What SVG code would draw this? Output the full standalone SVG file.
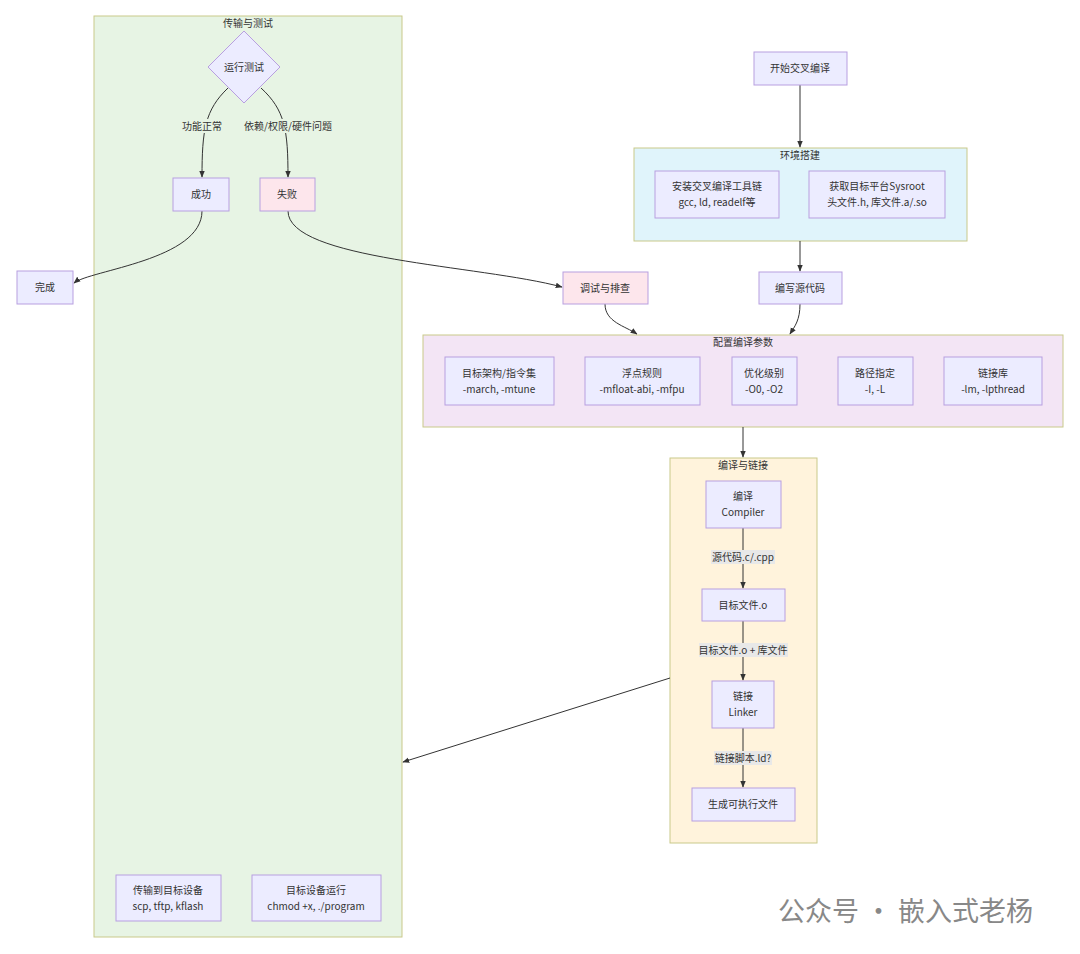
<svg xmlns="http://www.w3.org/2000/svg" width="1080" height="954" viewBox="0 0 1080 954">
<style>
text{font-family:"Noto Sans CJK SC","Noto Sans",sans-serif;font-size:10px;fill:#333;text-anchor:middle}
.n{fill:#ececff;stroke:#b89fe0;stroke-width:1}
.p{fill:#fde6ec;stroke:#b89fe0;stroke-width:1}
.c{stroke:#c9c98a;stroke-width:1}
.e{fill:none;stroke:#333;stroke-width:1}
.lb{fill:#e8e8e8}
.wm{font-size:27px;fill:#888;text-anchor:start}
</style>
<defs><marker id="a" viewBox="0 0 10 10" refX="9" refY="5" markerWidth="7" markerHeight="7" orient="auto"><path d="M0,1L10,5L0,9z" fill="#333"/></marker></defs>
<rect width="1080" height="954" fill="#fff"/>
<g id="c1"><rect class="c" x="94" y="16" width="308" height="921" fill="#e7f4e4"/><text x="248" y="27">传输与测试</text></g>
<g id="c2"><rect class="c" x="634" y="148" width="333" height="93" fill="#e0f4fb"/><text x="800" y="159">环境搭建</text></g>
<g id="c3"><rect class="c" x="423" y="335" width="640" height="92" fill="#f3e5f5"/><text x="743" y="346">配置编译参数</text></g>
<g id="c4"><rect class="c" x="670" y="458" width="147" height="385" fill="#fff3dc"/><text x="743" y="469">编译与链接</text></g>
<g id="edges">
<path class="e" d="M800,85V147" marker-end="url(#a)"/>
<path class="e" d="M800,241V271" marker-end="url(#a)"/>
<path class="e" d="M800,304C800,320 795,326 790,334" marker-end="url(#a)"/>
<path class="e" d="M605,304C605,322 625,326 637,334" marker-end="url(#a)"/>
<path class="e" d="M743,427V457" marker-end="url(#a)"/>
<path class="e" d="M743,528V588" marker-end="url(#a)"/>
<path class="e" d="M743,621V680" marker-end="url(#a)"/>
<path class="e" d="M743,728V787" marker-end="url(#a)"/>
<path class="e" d="M670,678L403,762" marker-end="url(#a)"/>
<path class="e" d="M228,88C205,110 202,130 202,177" marker-end="url(#a)"/>
<path class="e" d="M261,88C285,110 288,130 288,177" marker-end="url(#a)"/>
<path class="e" d="M202,211C202,260 90,270 74,283" marker-end="url(#a)"/>
<path class="e" d="M288,211C288,260 480,265 562,287" marker-end="url(#a)"/>
<rect x="180" y="119" width="44" height="14" fill="#e7f4e4"/><text x="202" y="130">功能正常</text>
<rect x="242" y="119" width="92" height="14" fill="#e7f4e4"/><text x="288" y="130">依赖/权限/硬件问题</text>
<rect class="lb" x="711" y="550" width="64" height="14"/><text x="743" y="561">源代码.c/.cpp</text>
<rect class="lb" x="699" y="643" width="89" height="14"/><text x="743" y="654">目标文件.o + 库文件</text>
<rect class="lb" x="714" y="751" width="58" height="14"/><text x="743" y="762">链接脚本.ld?</text>
</g>
<g id="n_test"><path d="M244,31L280,67L244,103L208,67z" class="n"/><text x="244" y="71">运行测试</text></g>
<g id="n_ok"><rect class="n" x="173" y="178" width="56" height="33"/><text x="201" y="198">成功</text></g>
<g id="n_fail"><rect class="p" x="260" y="178" width="55" height="33"/><text x="287" y="198">失败</text></g>
<g id="n_done"><rect class="n" x="17" y="271" width="56" height="33"/><text x="45" y="291">完成</text></g>
<g id="n_start"><rect class="n" x="754" y="52" width="93" height="33"/><text x="800" y="72">开始交叉编译</text></g>
<g id="n_tool"><rect class="n" x="655" y="171" width="124" height="47"/><text x="717" y="190">安装交叉编译工具链</text><text x="717" y="206">gcc, ld, readelf等</text></g>
<g id="n_sys"><rect class="n" x="809" y="171" width="136" height="47"/><text x="877" y="190">获取目标平台Sysroot</text><text x="877" y="206">头文件.h, 库文件.a/.so</text></g>
<g id="n_src"><rect class="n" x="759" y="272" width="83" height="32"/><text x="800" y="292">编写源代码</text></g>
<g id="n_dbg"><rect class="p" x="563" y="272" width="85" height="32"/><text x="605" y="292">调试与排查</text></g>
<g id="n_arch"><rect class="n" x="445" y="357" width="109" height="48"/><text x="499" y="377">目标架构/指令集</text><text x="499" y="393">-march, -mtune</text></g>
<g id="n_fp"><rect class="n" x="585" y="357" width="115" height="48"/><text x="642" y="377">浮点规则</text><text x="642" y="393">-mfloat-abi, -mfpu</text></g>
<g id="n_opt"><rect class="n" x="732" y="357" width="65" height="48"/><text x="764" y="377">优化级别</text><text x="764" y="393">-O0, -O2</text></g>
<g id="n_path"><rect class="n" x="838" y="357" width="75" height="48"/><text x="875" y="377">路径指定</text><text x="875" y="393">-I, -L</text></g>
<g id="n_lib"><rect class="n" x="944" y="357" width="98" height="48"/><text x="993" y="377">链接库</text><text x="993" y="393">-lm, -lpthread</text></g>
<g id="n_cc"><rect class="n" x="706" y="481" width="75" height="47"/><text x="743" y="500">编译</text><text x="743" y="516">Compiler</text></g>
<g id="n_obj"><rect class="n" x="702" y="589" width="83" height="32"/><text x="743" y="609">目标文件.o</text></g>
<g id="n_ld"><rect class="n" x="712" y="681" width="62" height="47"/><text x="743" y="700">链接</text><text x="743" y="716">Linker</text></g>
<g id="n_exe"><rect class="n" x="692" y="788" width="103" height="33"/><text x="743" y="808">生成可执行文件</text></g>
<g id="n_xfer"><rect class="n" x="116" y="875" width="105" height="46"/><text x="168" y="894">传输到目标设备</text><text x="168" y="910">scp, tftp, kflash</text></g>
<g id="n_run"><rect class="n" x="252" y="875" width="129" height="46"/><text x="316" y="894">目标设备运行</text><text x="316" y="910">chmod +x, ./program</text></g>
<text class="wm" x="778" y="921">公众号 · 嵌入式老杨</text>
</svg>
